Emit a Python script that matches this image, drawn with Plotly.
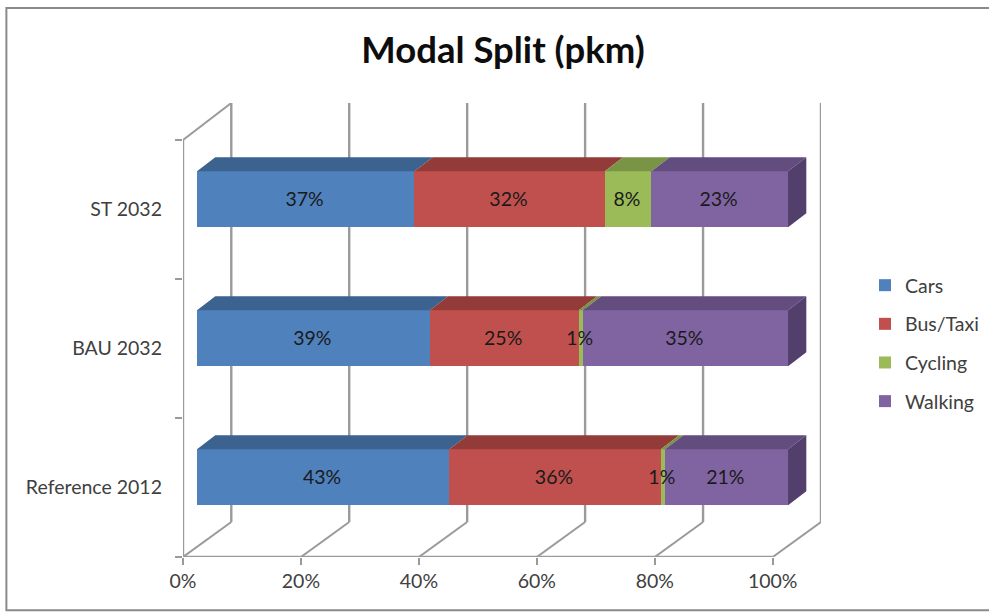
import plotly.graph_objects as go

categories = ["Reference 2012", "BAU 2032", "ST 2032"]
series_names = ["Cars", "Bus/Taxi", "Cycling", "Walking"]
cars = [42.7, 39.4, 36.8]
bus_taxi = [35.8, 25.2, 32.2]
cycling = [0.7, 0.7, 7.9]
walking = [20.8, 34.7, 23.1]
cars_labels = ["43%", "39%", "37%"]
bus_labels = ["36%", "25%", "32%"]
cycling_labels = ["1%", "1%", "8%"]
walking_labels = ["21%", "35%", "23%"]
x_ticks = [0, 20, 40, 60, 80, 100]
x_tick_labels = ["0%", "20%", "40%", "60%", "80%", "100%"]

front_colors = ["#4F81BD", "#C0504D", "#9BBB59", "#8064A2"]
top_colors = ["#3C6290", "#933B39", "#7A9445", "#634D7F"]
side_color = "#533F6B"
grid = "#9A9A9A"
font = "Lato"
size = 19.5

W, H = 989, 612
L, R, T, B = 182.7, 821.0, 103.0, 556.7
PX_X = 5.9           # pixels per percent
PX_Y = (B - 140.0) / 3   # pixels per category band
wall_dx = (R - L) / PX_X - 100
wall_dy = (B - 521.7) / PX_Y
xmax = 100 + wall_dx
ymax = 3 + (140.0 - T) / PX_Y
bar_start = (196.7 - L) / PX_X
bar_scale = (788.0 - 196.7) / (100 * PX_X)
bar_h = 56 / PX_Y
bar_shift = (556.7 - 477.0) / PX_Y - 0.5
depth_dx = 18.3 / PX_X
depth_dy = 14 / PX_Y
centres = [i + 0.5 for i in range(len(categories))]
bar_y = [c + bar_shift for c in centres]

all_vals = [cars, bus_taxi, cycling, walking]
all_labels = [cars_labels, bus_labels, cycling_labels, walking_labels]

fig = go.Figure()
bases = [bar_start] * len(categories)
label_x, label_y, label_t = [], [], []
top_polys = []
for name, vals, labels, fc, tc in zip(series_names, all_vals, all_labels, front_colors, top_colors):
    widths = [v * bar_scale for v in vals]
    fig.add_trace(go.Bar(
        orientation="h", name=name, y=bar_y, x=widths, base=bases, width=bar_h,
        marker=dict(color=fc, line=dict(width=0)), legendgroup=name, hoverinfo="skip",
    ))
    px, py = [], []
    for b, w, y, t in zip(bases, widths, bar_y, labels):
        top = y + bar_h / 2
        px += [b, b + w, b + w + depth_dx, b + depth_dx, b, None]
        py += [top, top, top + depth_dy, top + depth_dy, top, None]
        label_x.append(b + w / 2 - 0.2)
        label_y.append(y - 0.012)
        label_t.append(t)
    top_polys.append((px, py, tc))
    bases = [b + w for b, w in zip(bases, widths)]

for px, py, tc in top_polys:
    fig.add_trace(go.Scatter(x=px, y=py, mode="lines", fill="toself", fillcolor=tc,
                             line=dict(width=0), showlegend=False, hoverinfo="skip"))

sx, sy = [], []
for b, y in zip(bases, bar_y):
    top, bot = y + bar_h / 2, y - bar_h / 2
    sx += [b, b + depth_dx, b + depth_dx, b, b, None]
    sy += [top, top + depth_dy, bot + depth_dy, bot, top, None]
fig.add_trace(go.Scatter(x=sx, y=sy, mode="lines", fill="toself", fillcolor=side_color,
                         line=dict(width=0), showlegend=False, hoverinfo="skip"))

fig.add_trace(go.Scatter(x=label_x, y=label_y, text=label_t, mode="text", textposition="middle center",
                         textfont=dict(family=font, size=size, color="#1A1A1A"),
                         showlegend=False, hoverinfo="skip"))

shapes = []
def seg(x0, y0, x1, y1, w=2):
    shapes.append(dict(type="line", xref="x", yref="y", x0=x0, y0=y0, x1=x1, y1=y1,
                       layer="below", line=dict(color=grid, width=w)))
for t in x_ticks:
    seg(t, 0, t + wall_dx, wall_dy)
    seg(t + wall_dx, wall_dy, t + wall_dx, ymax, 2.4)
seg(0, 0, 0, 3, 2.4)
seg(0, 0, 100, 0, 2.4)
seg(0, 3, wall_dx, ymax)
# outer chart frame
fx = lambda p: (p - L) / (R - L)
fy = lambda p: 1 - (p - T) / (B - T)
shapes.append(dict(type="rect", xref="paper", yref="paper", x0=fx(6), x1=fx(1005), y0=fy(8), y1=fy(610),
                   layer="below", line=dict(color="#8A8A8A", width=2), fillcolor="rgba(0,0,0,0)"))

fig.update_layout(
    width=W, height=H, autosize=False,
    margin=dict(l=L, r=W - R, t=T, b=H - B, pad=0),
    paper_bgcolor="white", plot_bgcolor="rgba(0,0,0,0)",
    barmode="overlay", bargap=0,
    shapes=shapes,
    font=dict(family=font, color="#404040", size=size),
    title=dict(text="<b>Modal Split (pkm)</b>", xref="container", yref="container", x=503 / W, xanchor="center",
               y=1 - 50 / H, yanchor="middle", font=dict(family=font, size=36.5, color="#0D0D0D")),
    xaxis=dict(range=[0, xmax], showgrid=False, zeroline=False, showline=False, tickmode="array",
               tickvals=x_ticks, ticktext=x_tick_labels, ticks="outside", ticklen=7, tickwidth=2,
               tickcolor=grid, tickfont=dict(family=font, size=size, color="#404040"), fixedrange=True),
    yaxis=dict(range=[0, ymax], showgrid=False, zeroline=False, showline=False, tickmode="array",
               tickvals=centres, ticktext=categories, ticks="", ticklabelstandoff=20,
               tickfont=dict(family=font, size=size, color="#404040"), fixedrange=True,
               minor=dict(tickmode="array", tickvals=[0, 1, 2, 3], ticks="outside", ticklen=7,
                          tickwidth=2, tickcolor=grid, showgrid=False)),
    legend=dict(xref="container", yref="container", x=865 / W, y=1 - 266 / H, xanchor="left", yanchor="top",
                traceorder="grouped", tracegroupgap=10.3, itemwidth=30, bgcolor="rgba(0,0,0,0)",
                font=dict(family=font, size=size, color="#404040")),
)

fig.write_html("out.html", config=dict(displayModeBar=False),
               post_script="document.body.style.margin='0';document.body.style.overflow='hidden';")
